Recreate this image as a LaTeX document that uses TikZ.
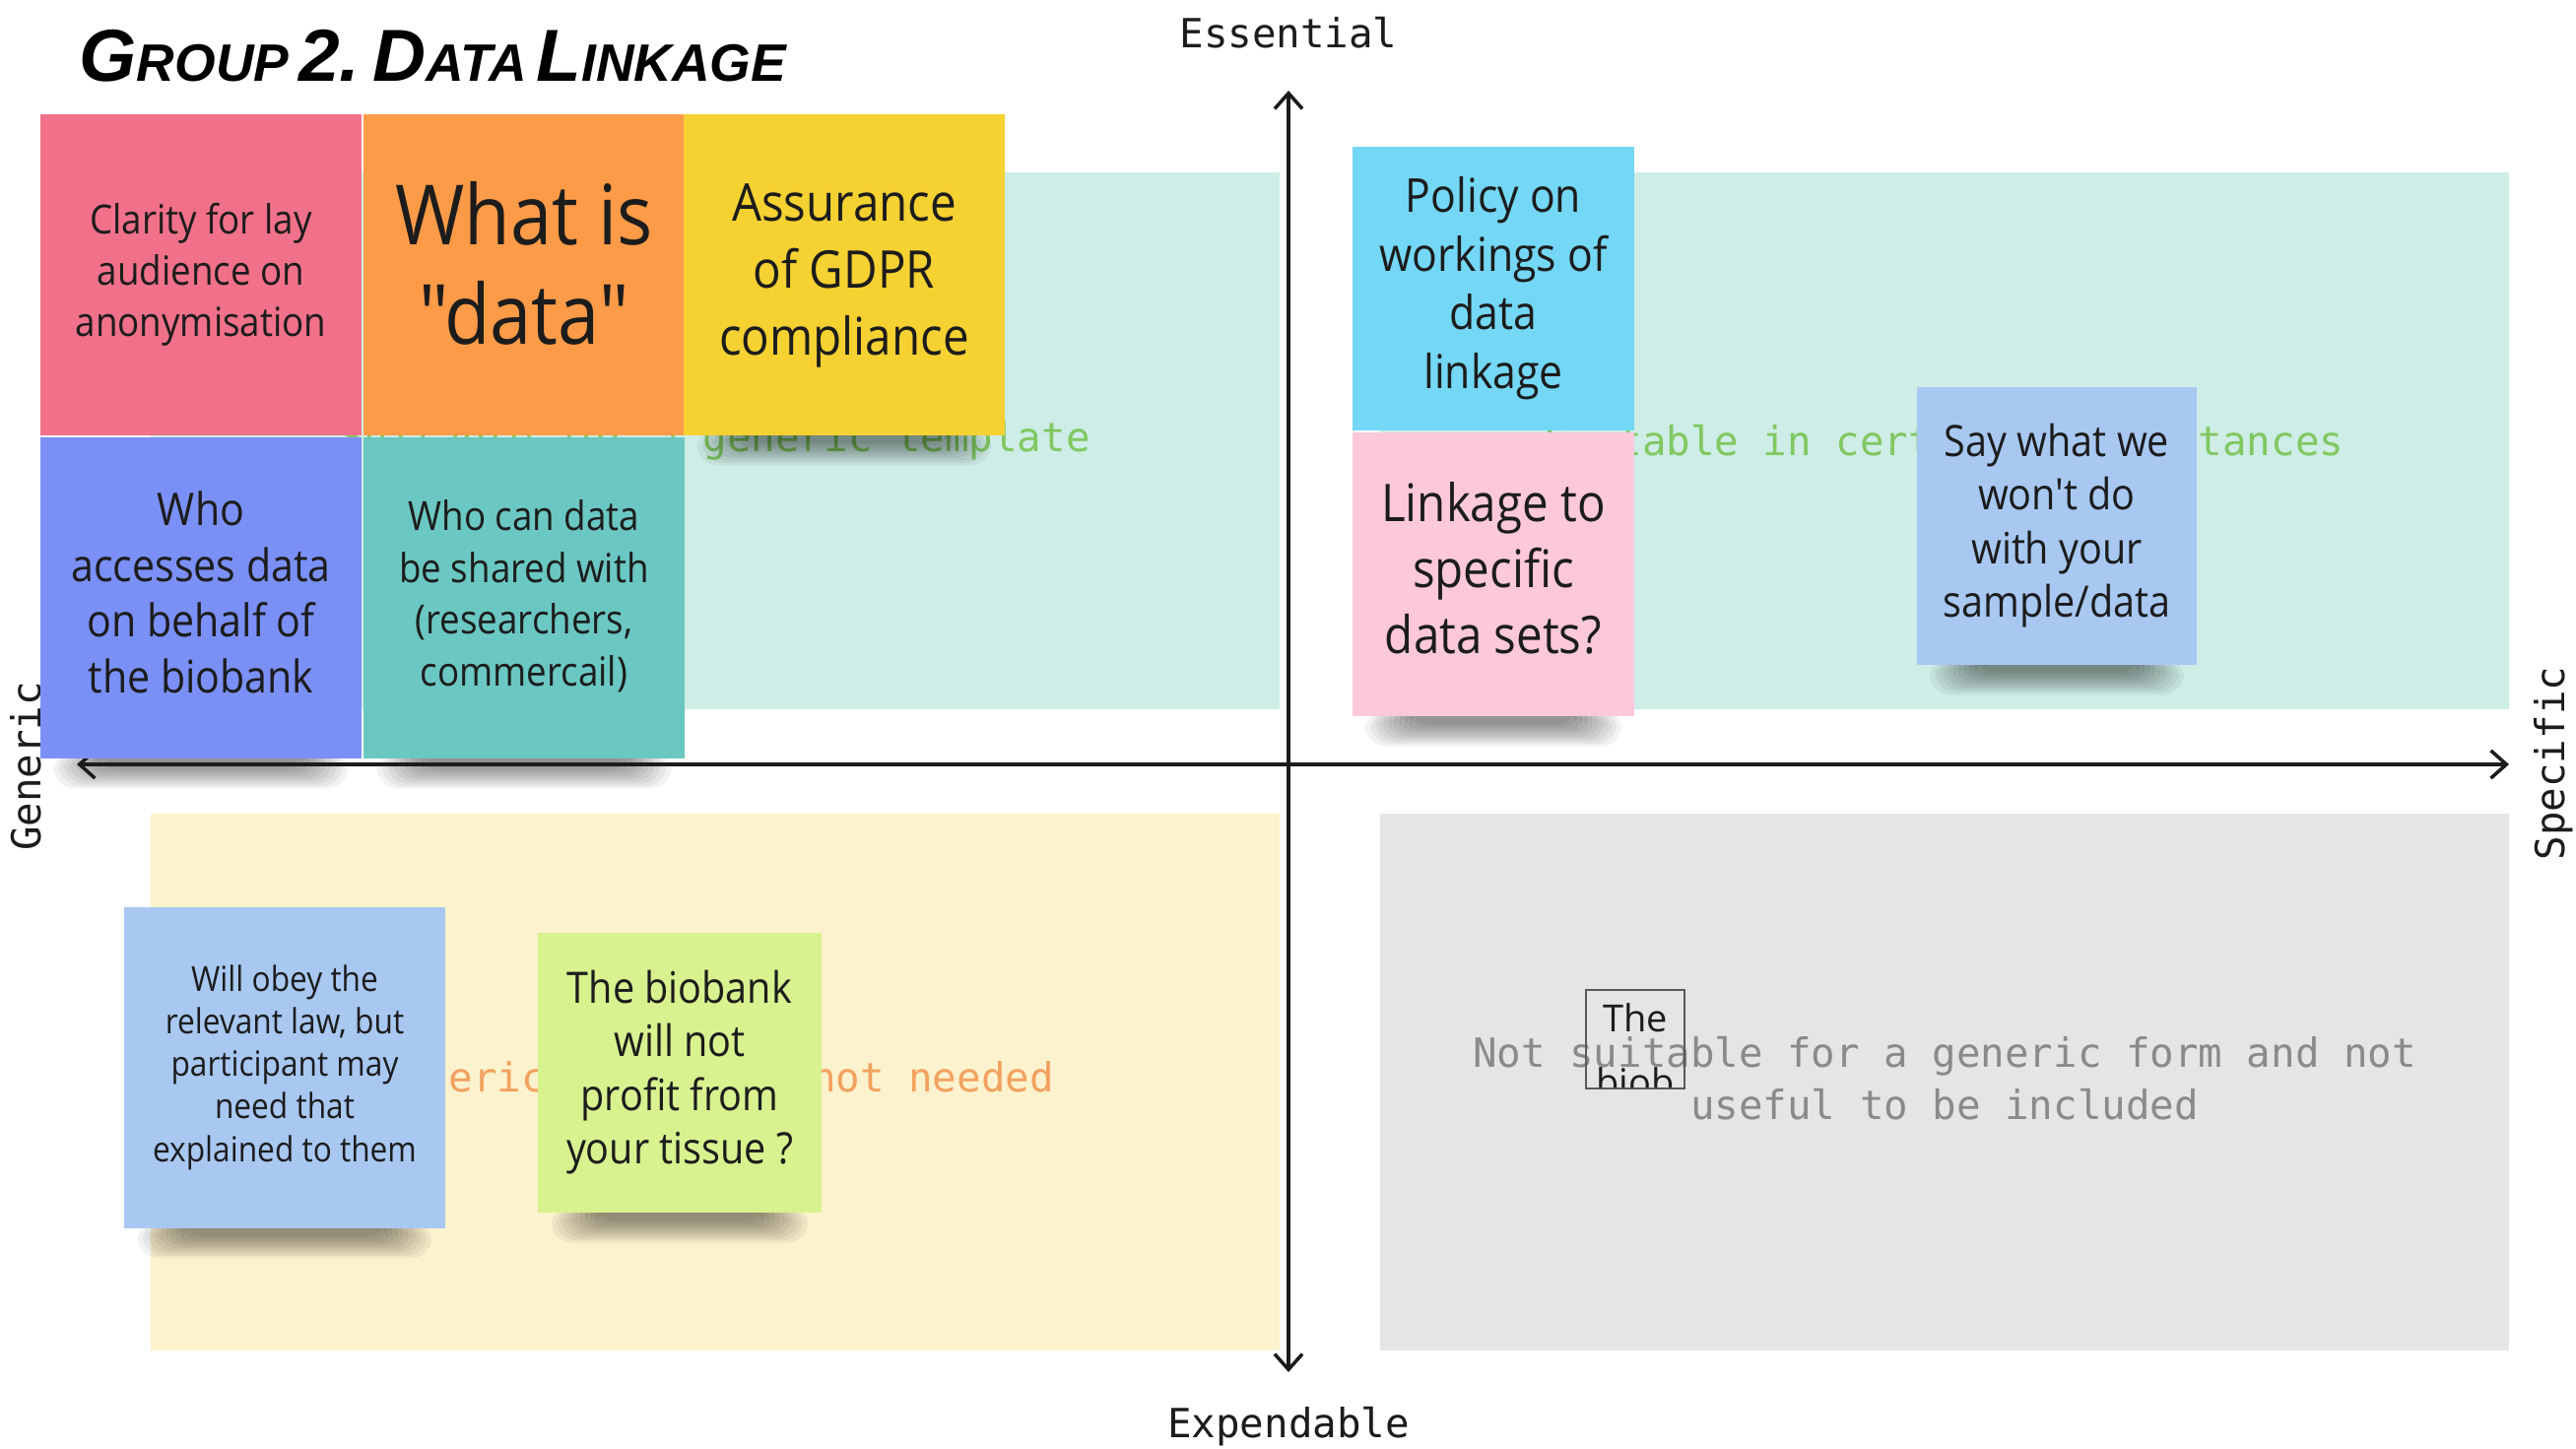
\documentclass[tikz,border=0pt]{standalone}
\usepackage{fontspec}
\usepackage{graphicx}
\usetikzlibrary{arrows.meta,calc}
\setmainfont{Open Sans}
\newfontfamily\stickyfont{Open Sans}[FakeStretch=0.9]
\newfontfamily\monofont{DejaVu Sans Mono}
\newfontfamily\titlefont{Liberation Sans}
\newcommand\mytsc[2]{{\fontsize{21}{21}\selectfont #1}{\fontsize{15}{15}\selectfont #2}}
\newcommand\shadowof[1]{%
  \foreach \k in {0,...,9}{%
    \fill[black, opacity=0.05, rounded corners=6pt]
      ($(#1.south west)+(14+5*\k,-8)$) rectangle ($(#1.south east)+(-14-5*\k,30-2.5*\k)$);
  }}
\pgfdeclarelayer{bgl}
\pgfdeclarelayer{shadowl}
\pgfsetlayers{bgl,shadowl,main}

\definecolor{tealbg}{HTML}{CEEDE6}
\definecolor{yellowbg}{HTML}{FDF2CE}
\definecolor{graybg}{HTML}{E5E5E5}
\definecolor{greentxt}{HTML}{80C860}
\definecolor{orangetxt}{HTML}{F3A15E}
\definecolor{graytxt}{HTML}{8A8A8A}
\definecolor{ink}{HTML}{1C1C1C}
\definecolor{cRed}{HTML}{F07189}
\definecolor{cOrange}{HTML}{FE9B48}
\definecolor{cYellow}{HTML}{F5D131}
\definecolor{cViolet}{HTML}{7B90F7}
\definecolor{cTeal}{HTML}{6BC7C2}
\definecolor{cCyan}{HTML}{74D7F6}
\definecolor{cPink}{HTML}{FDC9DA}
\definecolor{cBlue}{HTML}{A8C8F2}
\definecolor{cLime}{HTML}{D7F28F}

\begin{document}
\begin{tikzpicture}[x=0.01cm,y=-0.01cm,
  qtext/.style={inner sep=0pt, font=\monofont\fontsize{11.6}{15}\selectfont},
  axislabel/.style={inner sep=0pt, text=ink, font=\monofont\fontsize{11.6}{14}\selectfont},
  axis/.style={line width=1pt, draw=ink, {Straight Barb[length=4.5pt,width=8pt]}-{Straight Barb[length=4.5pt,width=8pt]}},
  sticky/.style={fill=#1, text=ink, align=center, inner sep=0pt},
]
\useasboundingbox (0,0) rectangle (2615,1471);

\begin{pgfonlayer}{bgl}
\fill[white] (0,0) rectangle (2615,1471);
% quadrants
\fill[tealbg] (153,175) rectangle (1299,720);
\fill[tealbg] (1401,175) rectangle (2547,720);
\fill[yellowbg] (153,826) rectangle (1299,1371);
\fill[graybg] (1401,826) rectangle (2547,1371);
% quadrant texts
\node[qtext, text=greentxt] (q1) at (726,447) {Suitable for a generic template};
\node[qtext, text=greentxt] (q2) at (1974,447) {Suitable in certain circumstances};
\node[qtext, text=orangetxt] (q3) at (726,1096) {Generic form, but not needed};
\node[qtext, text=graytxt, align=center] (q4) at (1974,1095) {Not suitable for a generic form and not\\useful to be included};
\end{pgfonlayer}

% title
\node[anchor=west, inner sep=0pt] (title) at (80,57) {\resizebox{204pt}{!}{\titlefont\bfseries\itshape \mytsc{G}{ROUP} {\fontsize{21}{21}\selectfont 2.} \mytsc{D}{ATA} \mytsc{L}{INKAGE}}};

% axis labels
\node[axislabel] (ess) at (1308,33) {Essential};
\node[axislabel] (exp) at (1308,1448) {Expendable};
\node[axislabel, rotate=90] (gen) at (26,778) {Generic};
\node[axislabel, rotate=90] (spe) at (2592,775) {Specific};

% axes
\coordinate (vtop) at (1308,92);
\coordinate (vbot) at (1308,1393);
\coordinate (hleft) at (78,776);
\coordinate (hright) at (2547,776);
\draw[axis] (vbot) -- (vtop);
\draw[axis] (hleft) -- (hright);

% stickies
\node[sticky=cRed, minimum width=3.25cm, minimum height=3.25cm, font=\stickyfont\fontsize{11.6}{14.7}\selectfont] (s1) at (204,279) {\raisebox{5pt}{\begin{tabular}{@{}c@{}}Clarity for lay\\audience on\\anonymisation\end{tabular}}};
\node[sticky=cOrange, minimum width=3.25cm, minimum height=3.25cm, font=\stickyfont\fontsize{24}{28.5}\selectfont] (s2) at (532,279) {\raisebox{4pt}{\begin{tabular}{@{}c@{}}What is\\"data"\end{tabular}}};
\node[sticky=cYellow, minimum width=3.25cm, minimum height=3.25cm, font=\stickyfont\fontsize{15}{19.2}\selectfont] (s3) at (857,279) {\raisebox{4.5pt}{\begin{tabular}{@{}c@{}}Assurance\\of GDPR\\compliance\end{tabular}}};
\node[sticky=cViolet, minimum width=3.25cm, minimum height=3.25cm, font=\stickyfont\fontsize{13}{16.1}\selectfont] (s4) at (204,607) {\raisebox{4.5pt}{\begin{tabular}{@{}c@{}}Who\\accesses data\\on behalf of\\the biobank\end{tabular}}};
\node[sticky=cTeal, minimum width=3.25cm, minimum height=3.25cm, font=\stickyfont\fontsize{11.6}{14.9}\selectfont] (s5) at (532,607) {\raisebox{4.5pt}{\begin{tabular}{@{}c@{}}Who can data\\be shared with\\(researchers,\\commercail)\end{tabular}}};
\node[sticky=cCyan, minimum width=2.86cm, minimum height=2.87cm, font=\stickyfont\fontsize{13.5}{17}\selectfont] (s6) at (1516,293) {\raisebox{4.5pt}{\begin{tabular}{@{}c@{}}Policy on\\workings of\\data\\linkage\end{tabular}}};
\node[sticky=cPink, minimum width=2.86cm, minimum height=2.88cm, font=\stickyfont\fontsize{15}{19}\selectfont] (s7) at (1516,583) {\raisebox{4.5pt}{\begin{tabular}{@{}c@{}}Linkage to\\specific\\data sets?\end{tabular}}};
\node[sticky=cBlue, minimum width=2.84cm, minimum height=2.81cm, font=\stickyfont\fontsize{12.5}{15.5}\selectfont] (s8) at (2088,534) {\raisebox{3pt}{\begin{tabular}{@{}c@{}}Say what we\\won't do\\with your\\sample/data\end{tabular}}};
\node[sticky=cBlue, minimum width=3.25cm, minimum height=3.25cm, font=\stickyfont\fontsize{10}{12.3}\selectfont] (s9) at (289,1084) {\raisebox{3pt}{\begin{tabular}{@{}c@{}}Will obey the\\relevant law, but\\participant may\\need that\\explained to them\end{tabular}}};
\node[sticky=cLime, minimum width=2.87cm, minimum height=2.84cm, font=\stickyfont\fontsize{12.5}{15.5}\selectfont] (s10) at (690,1089) {\raisebox{4pt}{\begin{tabular}{@{}c@{}}The biobank\\will not\\profit from\\your tissue ?\end{tabular}}};

% soft shadows under the stickies
\begin{pgfonlayer}{shadowl}
\shadowof{s3}
\shadowof{s4}
\shadowof{s5}
\shadowof{s7}
\shadowof{s8}
\shadowof{s9}
\shadowof{s10}
\end{pgfonlayer}

% clipped small box
\begin{scope}
\clip (1610,1005) rectangle (1710,1105);
\node[anchor=north, inner sep=0pt, align=center, text=ink, font=\fontsize{10.8}{18.5}\selectfont] (tb) at (1660,1018) {The\\biob};
\end{scope}
\draw[line width=0.7pt, draw=black!65] (1610,1005) rectangle (1710,1105);
\end{tikzpicture}
\end{document}
